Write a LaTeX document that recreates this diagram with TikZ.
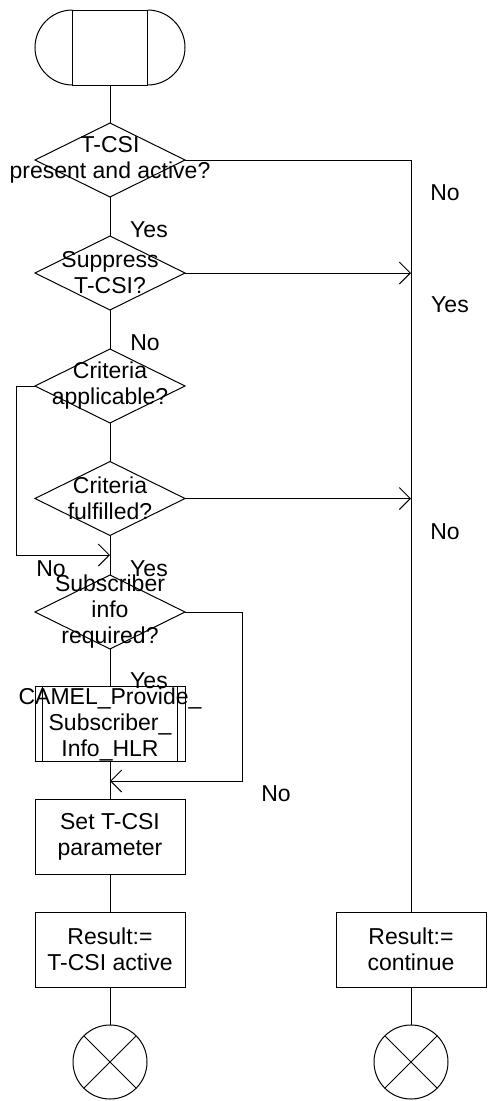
\documentclass[tikz,border=0pt]{standalone}
\usepackage{fontspec}
\setmainfont{Liberation Sans}
\usetikzlibrary{shapes.geometric,arrows.meta}
\tikzset{
  every node/.style={font=\fontsize{23}{26}\selectfont},
  dec/.style={draw,diamond,minimum width=150pt,minimum height=74pt,inner sep=0pt,outer sep=0pt,
    label={[align=center,inner sep=0pt]center:#1}},
  task/.style={draw,rectangle,minimum width=150pt,minimum height=75pt,inner sep=0pt,outer sep=0pt,align=center},
  proc/.style={task,label={[align=center,inner sep=0pt]center:#1},
    path picture={\draw ([xshift=7.5pt]path picture bounding box.north west) -- ([xshift=7.5pt]path picture bounding box.south west)
      ([xshift=-7.5pt]path picture bounding box.north east) -- ([xshift=-7.5pt]path picture bounding box.south east);}},
  stopc/.style={draw,circle,minimum size=74pt,inner sep=0pt,outer sep=0pt,
    path picture={\draw (path picture bounding box.north west) -- (path picture bounding box.south east)
      (path picture bounding box.north east) -- (path picture bounding box.south west);}},
  arr/.style={-{Straight Barb[length=11pt,width=22pt]}}
}
\begin{document}
\begin{tikzpicture}[x=1pt,y=1pt,line width=1pt]
    \useasboundingbox (0,0) rectangle (488,-1101);
    \node[draw,minimum width=75pt,minimum height=75pt,inner sep=0pt,outer sep=0pt] (start) at (110,-47.5) {};% start box
    \draw (start.north west) arc[start angle=90,end angle=270,radius=37.5pt];% left cap
    \draw (start.north east) arc[start angle=90,end angle=-90,radius=37.5pt];% right cap
    \node[dec={T-CSI\\present and active?}] (d1) at (110,-160) {};
    \node[dec={Suppress\\T-CSI?}] (d2) at (110,-273) {};
    \node[dec={Criteria\\applicable?}] (d3) at (110,-386) {};
    \node[dec={Criteria\\fulfilled?}] (d4) at (110,-498.5) {};
    \node[dec={Subscriber\\info\\required?}] (d5) at (110,-612) {};
    \node[proc={CAMEL\_Provide\_\\Subscriber\_\\Info\_HLR}] (camel) at (110,-724) {};
    \node[task] (setpar) at (110,-836.5) {Set T-CSI\\parameter};
    \node[task] (resA) at (110,-949.5) {Result:=\\T-CSI active};
    \node[task] (resB) at (411,-949.5) {Result:=\\continue};
    \node[stopc] (endA) at (110,-1062) {};
    \node[stopc] (endB) at (411,-1062) {};
    \coordinate (j1) at (110,-555);% join of the criteria loop
    \coordinate (j2) at (110,-781);% join of the info loop
    % main line
    \draw (start) -- (d1) -- (d2) -- (d3) -- (d4) -- (d5) -- (camel) -- (setpar) -- (resA) -- (endA);
    \draw (resB) -- (endB);
    % branches
    \draw (d1.east) -| (resB.north);
    \draw[arr] (d2.east) -- (d2.east -| resB.north);
    \draw[arr] (d4.east) -- (d4.east -| resB.north);
    \draw[arr] (d3.west) -- ++(-19,0) |- (j1);
    \draw[arr] (d5.east) -- ++(57,0) |- (j2);
    % labels
    \node (nA) at (445,-193) {No};
    \node (yA) at (149,-230) {Yes};
    \node (yB) at (450,-305) {Yes};
    \node (nB) at (145,-343) {No};
    \node (nC) at (445,-532) {No};
    \node (nD) at (51,-569) {No};
    \node (yC) at (149,-569) {Yes};
    \node (yD) at (149,-681) {Yes};
    \node (nE) at (276,-794) {No};
\end{tikzpicture}
\end{document}
